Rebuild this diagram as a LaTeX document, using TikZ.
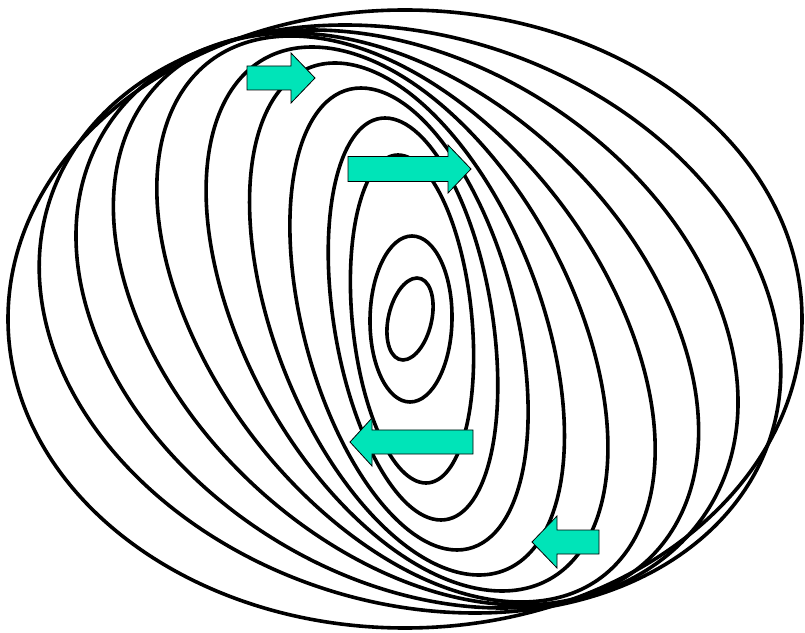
\documentclass[tikz,border=0pt]{standalone}
\usepackage{tikz}
\definecolor{wavecyan}{RGB}{0,228,184}
\tikzset{
    orbit/.style={line width=3.6pt,black},
    flowarrow/.style={fill=wavecyan,draw=black,line width=0.8pt,line join=miter}
}
\begin{document}
\begin{tikzpicture}[x=1pt,y=1pt]
        \useasboundingbox (0,0) rectangle (805,632);
        
        % 椭圆轨道（由内到外）
        \foreach \cx/\h/\t/\v in {410/22/7/41, 411/41/1/83, 412/60/-14/164,
                413/80/-28/201, 409/109/-48/231, 407/140/-72/256, 407/177/-95/272,
                406/221/-115/283, 406/269/-115/286, 407/317/-95/289, 410/365/-65/294,
                405/397/0/309}
            \draw[orbit,cm={\h,0,\t,\v,(\cx,313)}] (0,0) circle (1pt);
        
        % 向右的箭头
        \draw[flowarrow] (247,542) -- (291,542) -- (291,529) -- (315,554)
            -- (291,579) -- (291,566) -- (247,566) -- cycle;
        \draw[flowarrow] (348,450.5) -- (448,450.5) -- (448,439) -- (471,463)
            -- (448,487) -- (448,475.5) -- (348,475.5) -- cycle;
        
        % 向左的箭头
        \draw[flowarrow] (473,178) -- (372,178) -- (372,166) -- (350,190)
            -- (372,214) -- (372,202) -- (473,202) -- cycle;
        \draw[flowarrow] (599,78) -- (557,78) -- (557,64) -- (532,90)
            -- (557,116) -- (557,102) -- (599,102) -- cycle;
    \end{tikzpicture}
\end{document}
